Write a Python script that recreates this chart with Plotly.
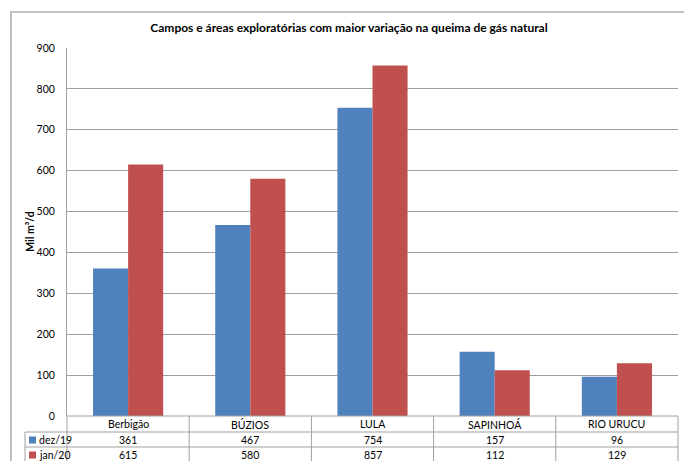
import plotly.graph_objects as go

# data
campos = ["Berbigão", "BÚZIOS", "LULA", "SAPINHOÁ", "RIO URUCU"]
dez19 = [361, 467, 754, 157, 96]
jan20 = [615, 580, 857, 112, 129]
series_names = ["dez/19", "jan/20"]
colors = ["#4F81BD", "#C0504D"]

FONT = "Lato, 'Liberation Sans', sans-serif"
GRID = "#a0a0a0"

fig = go.Figure()
for name, vals, c in zip(series_names, [dez19, jan20], colors):
    fig.add_bar(x=campos, y=vals, name=name, marker_color=c, marker_line_width=0)

# the page body adds 8px around the figure, so the size is reduced by that
fig.update_layout(
    width=684, height=453,
    margin=dict(l=59, r=14, t=40, b=45),
    paper_bgcolor="white", plot_bgcolor="white",
    barmode="group", bargap=0.426, bargroupgap=0,
    showlegend=False,
    font=dict(family=FONT, size=10.5, color="#000000"),
    title=dict(
        text="<b>Campos e áreas exploratórias com maior variação na queima de gás natural</b>",
        x=0.4985, xanchor="center", y=0.956, yanchor="middle",
        font=dict(family=FONT, size=12, color="#000000"),
    ),
)
fig.update_xaxes(showticklabels=False, showgrid=False, zeroline=False, showline=False)
fig.update_yaxes(
    range=[0, 900], dtick=100, showgrid=True, gridcolor=GRID, gridwidth=1,
    zeroline=False, showline=True, linecolor=GRID, linewidth=1,
    ticks="", ticklabelstandoff=9, tickfont=dict(size=10.5),
)

# y axis title
fig.add_annotation(
    text="<b>Mil m³/d</b>", textangle=-90, xref="paper", yref="paper",
    x=-0.061, y=0.5, xanchor="center", yanchor="middle",
    showarrow=False, font=dict(size=10.5),
)

# outer chart border
fig.add_shape(type="rect", xref="paper", yref="paper", x0=-0.0917, x1=1.0147,
              y0=-0.3, y1=1.0978, line=dict(color="#c0c0c0", width=2), layer="below")

# data table below the plot
line = dict(color=GRID, width=1)
fig.add_shape(type="line", xref="paper", yref="paper", x0=0, x1=1, y0=0, y1=0, line=line)
fig.add_shape(type="line", xref="paper", yref="paper", x0=1, x1=1, y0=0, y1=-0.3, line=line)
fig.add_shape(type="line", xref="paper", yref="paper", x0=0, x1=0, y0=0, y1=-0.3, line=line)
fig.add_shape(type="line", xref="paper", yref="paper", x0=-0.0687, x1=-0.0687,
              y0=-0.0435, y1=-0.3, line=line)
for yy in [-0.0435, -0.0842]:
    fig.add_shape(type="line", xref="paper", yref="paper", x0=-0.0687, x1=1,
                  y0=yy, y1=yy, line=line)
for i in range(1, len(campos)):
    fig.add_shape(type="line", xref="x", yref="paper", x0=i - 0.5, x1=i - 0.5,
                  y0=0, y1=-0.3, line=line)

for i, cat in enumerate(campos):
    fig.add_annotation(text=cat, x=cat, xref="x", y=0, yref="paper", yshift=-8,
                       showarrow=False, yanchor="middle")
for row, (vals, name, c) in enumerate(zip([dez19, jan20], series_names, colors)):
    shift = -24 - 15 * row
    for cat, v in zip(campos, vals):
        fig.add_annotation(text=str(v), x=cat, xref="x", y=0, yref="paper",
                           yshift=shift, showarrow=False, yanchor="middle")
    fig.add_annotation(text=name, x=-0.0491, xref="paper", y=0, yref="paper",
                       yshift=shift, showarrow=False, xanchor="left", yanchor="middle")
    y_mid = -(24 + 15 * row) / 368
    fig.add_shape(type="rect", xref="paper", yref="paper", x0=-0.0622, x1=-0.0507,
                  y0=y_mid - 0.0095, y1=y_mid + 0.0095, line_width=0, fillcolor=c)

fig.write_html("out.html")
